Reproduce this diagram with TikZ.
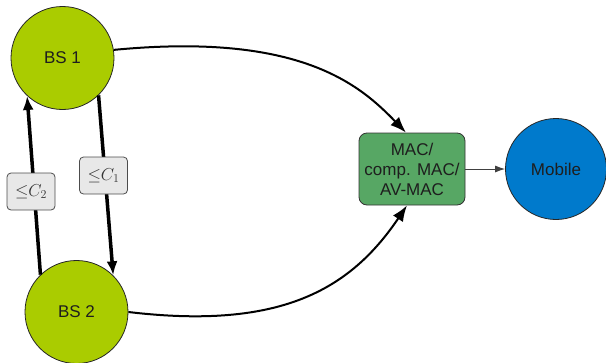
\documentclass[tikz,border=0pt]{standalone}
\usepackage{fontspec}
\setsansfont{Liberation Sans}
\setmainfont{Liberation Serif}
\usetikzlibrary{arrows.meta}
\definecolor{bsgreen}{RGB}{170,204,0}
\definecolor{macgreen}{RGB}{87,167,100}
\definecolor{mobblue}{RGB}{0,122,204}
\definecolor{capgray}{RGB}{232,232,232}
\definecolor{inkdark}{RGB}{30,30,30}

\begin{document}
\begin{tikzpicture}[x=1pt,y=-1pt,
  station/.style={circle, draw=black!85, line width=0.8pt, minimum size=103pt,
    inner sep=0pt, font=\sffamily\fontsize{17}{20}\selectfont, text=inkdark},
  macbox/.style={rectangle, rounded corners=8pt, minimum width=106pt,
    minimum height=72pt, inner sep=1pt, align=center, fill=macgreen,
    draw=black!80, line width=0.8pt, font=\sffamily\fontsize{17}{20}\selectfont,
    text=inkdark},
  caplabel/.style={rectangle, rounded corners=4pt, minimum width=48pt,
    minimum height=37pt, inner sep=1pt, fill=capgray, draw=black!70,
    line width=0.8pt, font=\fontsize{18}{20}\selectfont, text=black!80},
  backhaul/.style={line width=3.5pt, -{Latex[length=14pt,width=11pt]}},
  feed/.style={line width=2pt, -{Latex[length=16pt,width=12pt]}},
  downlink/.style={line width=0.9pt, draw=black!75, -{Latex[length=10pt,width=7pt]}}]
\useasboundingbox (0,0) rectangle (606,362);

% nodes
\node[station, fill=bsgreen] (bs1) at (62.5,58) {BS 1};
\node[station, fill=bsgreen] (bs2) at (76.5,312) {BS 2};
\node[station, fill=mobblue, minimum size=101pt] (mob) at (556,169) {Mobile};
\node[macbox] (mac) at (412,169) {MAC/\\comp. MAC/\\AV-MAC};

% backhaul links between the base stations
\draw[backhaul] (bs2.134.6) -- (bs1.227.8);
\draw[backhaul] (bs1.-46.2) -- (bs2.45.4);
\node[caplabel] (c2) at (31,191.5) {${\leq}C_2$};
\node[caplabel] (c1) at (103.5,175.5) {${\leq}C_1$};

% links to the MAC and on to the mobile
\draw[feed] (bs1.9) .. controls (300,32) and (360,85) .. ([xshift=-6pt]mac.north);
\draw[feed] (bs2.east) .. controls (280,330) and (350,290) .. ([xshift=-5pt]mac.south);
\draw[downlink] (mac.east) -- (mob.west);
\end{tikzpicture}
\end{document}
